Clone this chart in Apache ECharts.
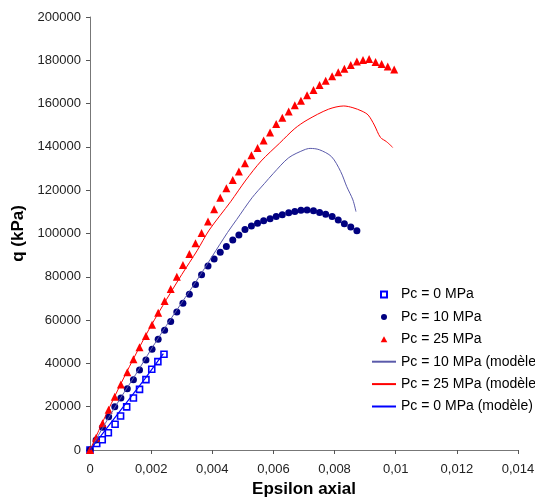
<!DOCTYPE html>
<html><head><meta charset="utf-8">
<script src="https://cdn.jsdelivr.net/npm/echarts@6/dist/echarts.min.js"></script>
<style>html,body{margin:0;padding:0;background:#fff;}#c{width:535px;height:502px;}</style>
</head><body><div id="c"></div>
<script>
// Tick labels
const xTicks = [0, 0.002, 0.004, 0.006, 0.008, 0.01, 0.012, 0.014];
const yTicks = [0, 20000, 40000, 60000, 80000, 100000, 120000, 140000, 160000, 180000, 200000];
const seriesNames = ['Pc = 0 MPa', 'Pc = 10 MPa', 'Pc = 25 MPa', 'Pc = 10 MPa (modèle)', 'Pc = 25 MPa (modèle)', 'Pc = 0 MPa (modèle)'];

// Pc = 0 MPa (measured)
const eps0 = [0, 0.00022, 0.0004, 0.0006, 0.00082, 0.001, 0.0012, 0.00142, 0.00162, 0.00183, 0.00202, 0.00222, 0.00242];
const q0 = [0, 3000, 4700, 8000, 11900, 15700, 19900, 24000, 28000, 32500, 37300, 40800, 44200];

// Pc = 10 MPa (measured)
const eps10 = [0, 0.0002, 0.00041, 0.00061, 0.00081, 0.00101, 0.00122, 0.00142, 0.00162, 0.00183, 0.00203, 0.00223, 0.00244, 0.00264, 0.00284, 0.00304, 0.00325, 0.00345, 0.00365, 0.00386, 0.00406, 0.00426, 0.00446, 0.00467, 0.00487, 0.00507, 0.00528, 0.00548, 0.00568, 0.00589, 0.00609, 0.00629, 0.0065, 0.0067, 0.0069, 0.0071, 0.00731, 0.00751, 0.00771, 0.00792, 0.00812, 0.00832, 0.00853, 0.00873];
const q10 = [0, 4600, 10500, 15400, 20000, 24000, 28300, 32500, 37000, 41600, 46500, 51100, 55300, 59400, 63700, 67800, 71900, 76400, 81000, 85000, 88200, 91300, 94000, 97000, 99300, 101900, 103500, 104700, 105900, 106800, 107800, 108700, 109600, 110200, 110700, 110800, 110500, 109700, 108900, 107800, 106200, 104500, 103000, 101300];

// Pc = 25 MPa (measured)
const eps25 = [0, 0.0002, 0.00041, 0.00061, 0.00081, 0.00101, 0.00122, 0.00142, 0.00162, 0.00183, 0.00203, 0.00223, 0.00244, 0.00264, 0.00284, 0.00304, 0.00325, 0.00345, 0.00365, 0.00386, 0.00406, 0.00426, 0.00446, 0.00467, 0.00487, 0.00507, 0.00528, 0.00548, 0.00568, 0.00589, 0.00609, 0.00629, 0.0065, 0.0067, 0.0069, 0.0071, 0.00731, 0.00751, 0.00771, 0.00792, 0.00812, 0.00832, 0.00853, 0.00873, 0.00893, 0.00913, 0.00934, 0.00954, 0.00974, 0.00995];
const q25 = [0, 5700, 12300, 18600, 24600, 30200, 35900, 41900, 47500, 52700, 57900, 63400, 68800, 74400, 80000, 85500, 90500, 95500, 100200, 105500, 111200, 116500, 120900, 124700, 128600, 132400, 136100, 139500, 142900, 146600, 150600, 153500, 156400, 159200, 161300, 163800, 166300, 168600, 170600, 172600, 174500, 176100, 177800, 179400, 180100, 180600, 179200, 178300, 177100, 175800];

// Models
const epsM10 = [0, 0.0005, 0.001, 0.0015, 0.002, 0.0025, 0.003, 0.0035, 0.004, 0.0045, 0.0048, 0.0053, 0.0057, 0.006, 0.0065, 0.007, 0.0072, 0.0075, 0.0079, 0.0082, 0.0084, 0.0086, 0.0087];
const qM10 = [0, 12300, 24000, 35000, 46500, 57500, 68000, 78500, 89500, 100500, 106500, 116500, 123000, 127800, 135000, 138600, 139300, 138700, 135500, 128600, 121600, 115500, 110100];
const epsM25 = [0, 0.0004, 0.0008, 0.0012, 0.0016, 0.002, 0.0025, 0.003, 0.0035, 0.0039, 0.0046, 0.0051, 0.0056, 0.0062, 0.0067, 0.0071, 0.0078, 0.0083, 0.0086, 0.0089, 0.0091, 0.0093, 0.0095, 0.0097, 0.0099];
const qM25 = [0, 12500, 24500, 36000, 47000, 57500, 69500, 81000, 92000, 101600, 114700, 124700, 133500, 141700, 148500, 152400, 157400, 158900, 158100, 156500, 154700, 150100, 144400, 142400, 139800];
const epsM0 = [0, 0.0006, 0.0012, 0.0018, 0.0024];
const qM0 = [0, 11000, 22000, 33000, 44500];

const zip = (a, b) => a.map((v, i) => [v, b[i]]);
const FONT = "'Liberation Sans', Arial, sans-serif";
const SQ = 'path://M0,0L10,0L10,10L0,10Z';
const TRI = 'path://M5,0L10,9L0,9Z';

const chart = echarts.init(document.getElementById('c'), null, {renderer: 'canvas'});
chart.setOption({
  animation: false,
  backgroundColor: '#fff',
  textStyle: {fontFamily: FONT},
  grid: {left: 90, right: 17, top: 17, bottom: 52, containLabel: false, outerBoundsMode: 'none'},
  legend: {
    orient: 'vertical', left: 371, top: 287, padding: 0,
    itemWidth: 24, itemHeight: 6, itemGap: 7.4, symbolKeepAspect: true,
    textStyle: {fontFamily: FONT, fontSize: 14, color: '#000', lineHeight: 15},
    data: [
      {name: seriesNames[0], icon: SQ},
      {name: seriesNames[1], icon: 'circle'},
      {name: seriesNames[2], icon: TRI},
      {name: seriesNames[3], itemStyle: {opacity: 0}},
      {name: seriesNames[4], itemStyle: {opacity: 0}},
      {name: seriesNames[5], itemStyle: {opacity: 0}}
    ]
  },
  xAxis: {
    type: 'value', min: xTicks[0], max: xTicks[xTicks.length - 1], interval: 0.002,
    name: 'Epsilon axial', nameLocation: 'middle', nameGap: 30,
    nameTextStyle: {fontFamily: FONT, fontSize: 17, fontWeight: 'bold', color: '#000'},
    axisLine: {lineStyle: {color: '#777', width: 1}},
    axisTick: {show: true, inside: false, length: 4, lineStyle: {color: '#555'}},
    axisLabel: {fontFamily: FONT, fontSize: 13, color: '#222', margin: 13,
      formatter: v => String(+v.toFixed(4)).replace('.', ',')},
    splitLine: {show: false}
  },
  yAxis: {
    type: 'value', min: yTicks[0], max: yTicks[yTicks.length - 1], interval: 20000,
    name: 'q (kPa)', nameLocation: 'middle', nameGap: 56, nameRotate: 90,
    nameTextStyle: {fontFamily: FONT, fontSize: 17, fontWeight: 'bold', color: '#000'},
    axisLine: {show: true, lineStyle: {color: '#777', width: 1}},
    axisTick: {show: true, inside: false, length: 4, lineStyle: {color: '#555'}},
    axisLabel: {fontFamily: FONT, fontSize: 13, color: '#222', margin: 9, formatter: v => String(v)},
    splitLine: {show: false}
  },
  series: [
    {name: seriesNames[0], type: 'scatter', data: zip(eps0, q0), symbol: 'rect', symbolSize: 6,
      itemStyle: {color: '#fff', borderColor: '#0000ff', borderWidth: 1.6, opacity: 1}, z: 3},
    {name: seriesNames[1], type: 'scatter', data: zip(eps10, q10), symbol: 'circle', symbolSize: 7,
      itemStyle: {color: '#000080', opacity: 1}, z: 3},
    {name: seriesNames[2], type: 'scatter', data: zip(eps25, q25), symbol: 'triangle', symbolSize: 8,
      itemStyle: {color: '#ff0000', opacity: 1}, z: 3},
    {name: seriesNames[3], type: 'line', data: zip(epsM10, qM10), symbol: 'none', smooth: 0.3,
      lineStyle: {color: '#5a5aaa', width: 1}, itemStyle: {color: '#5a5aaa'}, z: 4},
    {name: seriesNames[4], type: 'line', data: zip(epsM25, qM25), symbol: 'none', smooth: 0.3,
      lineStyle: {color: '#ff0000', width: 1}, itemStyle: {color: '#ff0000'}, z: 4},
    {name: seriesNames[5], type: 'line', data: zip(epsM0, qM0), symbol: 'none', smooth: false,
      lineStyle: {color: '#0000ff', width: 1.2}, itemStyle: {color: '#0000ff'}, z: 4}
  ]
});
</script></body></html>
